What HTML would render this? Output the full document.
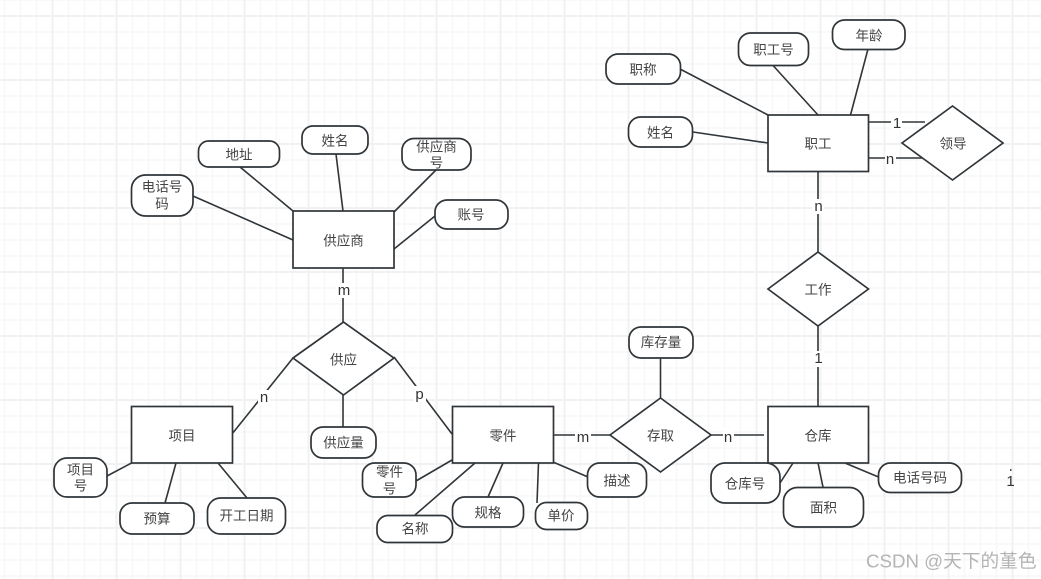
<!DOCTYPE html>
<html lang="zh">
<head>
<meta charset="utf-8">
<title>E-R 图</title>
<style>
html,body{margin:0;padding:0;background:#fff;width:1041px;height:579px;overflow:hidden}
svg{display:block}
.g{stroke:#2f3539;stroke-width:1.6;fill:none}
.s{stroke:#2f3539;stroke-width:1.7;fill:#fff}
text{font-family:"Liberation Sans","Noto Sans CJK SC",sans-serif;font-size:13.5px;fill:#444;text-anchor:middle;dominant-baseline:central}
.l{font-size:15px;fill:#333;transform:translateY(.7px)}
.wm{font-size:18.7px;fill:#b4b4b4;text-anchor:start}
</style>
</head>
<body>
<svg width="1041" height="579" viewBox="0 0 1041 579" xmlns="http://www.w3.org/2000/svg">
<defs>
<pattern id="minor" x="3.500" y="-1" width="16" height="16" patternUnits="userSpaceOnUse">
<path d="M1 0V16M0 1H16" stroke="#f7f7f8" stroke-width="1.5" fill="none"/>
</pattern>
<pattern id="major" x="51.500" y="15" width="64" height="64" patternUnits="userSpaceOnUse">
<path d="M1 0V64M0 1H64" stroke="#f1f1f2" stroke-width="2" fill="none"/>
</pattern>
</defs>
<rect width="1041" height="579" fill="#fff"/>
<rect width="1041" height="579" fill="url(#minor)"/>
<rect width="1041" height="579" fill="url(#major)"/>

<!-- connectors -->
<g class="g">
<path d="M680 69L768 115M773.500 66L818 115M868 49L850.500 115M693 132L768 143"/>
<path d="M868 122H925M868 158H925"/>
<path d="M818 171V252M818 326V406"/>
<path d="M553 435H610M711 435H764M660.500 358V398"/>
<path d="M553 462L588 477M538.500 463L537 503M503 463L488 497M475 463L415 515M452 460L416 481"/>
<path d="M394 357L452 434M232 434L293 358M343 395V427"/>
<path d="M131.500 463L107 476M176 463L165 503M218 463L247 498"/>
<path d="M343 268V322"/>
<path d="M394 249L435 216M394 212L436 170M336 154L343 211M240 167L293 211M193 196L293 240"/>
<path d="M793 463L780 483M818 463L823 487M845 463L878.500 477"/>
</g>

<!-- entities -->
<g class="s">
<rect x="768" y="115" width="100.500" height="56.500"/>
<rect x="768" y="406.500" width="100.500" height="56.500"/>
<rect x="452.500" y="406.500" width="101" height="56.500"/>
<rect x="131.500" y="406.500" width="101" height="56.500"/>
<rect x="293" y="211" width="101" height="57"/>
</g>

<!-- relationships -->
<g class="s">
<polygon points="902,143 952.500,106 1003,143 952.500,180"/>
<polygon points="768,289 818,252 868.500,289 818,326"/>
<polygon points="610,435 660.500,398 711,435 660.500,472"/>
<polygon points="293,358 343.500,322 394,358 343.500,395"/>
</g>

<!-- attributes -->
<g class="s">
<rect x="738.500" y="33" width="70" height="32.500" rx="12"/>
<rect x="832.500" y="20" width="72.500" height="29.500" rx="12"/>
<rect x="606" y="54" width="74.500" height="30" rx="12"/>
<rect x="628.500" y="117" width="64" height="30" rx="12"/>
<rect x="629" y="327" width="64" height="31" rx="12"/>
<rect x="587.500" y="463" width="59" height="34" rx="12"/>
<rect x="535.500" y="502.500" width="52" height="27" rx="11"/>
<rect x="452.500" y="497" width="71" height="30" rx="12"/>
<rect x="377" y="515.500" width="75.500" height="27" rx="11"/>
<rect x="362.500" y="463" width="53.500" height="34" rx="12"/>
<rect x="311" y="427" width="65" height="31" rx="12"/>
<rect x="54" y="458" width="53" height="39" rx="13"/>
<rect x="120" y="503" width="74" height="31" rx="12"/>
<rect x="207.500" y="498" width="78" height="36" rx="13"/>
<rect x="435" y="200" width="73" height="29" rx="12"/>
<rect x="402" y="138.500" width="69" height="31.500" rx="12"/>
<rect x="302" y="126" width="66" height="28" rx="11"/>
<rect x="198.500" y="141" width="81" height="26" rx="10"/>
<rect x="131.500" y="175" width="61.500" height="41" rx="14"/>
<rect x="711" y="463" width="69" height="40" rx="14"/>
<rect x="783.500" y="487.500" width="80" height="39.500" rx="14"/>
<rect x="878.500" y="463" width="83" height="29.500" rx="12"/>
</g>

<!-- cardinality label backgrounds -->
<g fill="#fff">
<rect x="891" y="114" width="11" height="17"/>
<rect x="885" y="151" width="11" height="15"/>
<rect x="812" y="199" width="12" height="15"/>
<rect x="812" y="351" width="12" height="16"/>
<rect x="575" y="428" width="16" height="15"/>
<rect x="723" y="428" width="11" height="15"/>
<rect x="414" y="386" width="12" height="16"/>
<rect x="258" y="390" width="12" height="15"/>
<rect x="336" y="283" width="16" height="15"/>
</g>

<!-- labels -->
<text x="818" y="144">职工</text>
<text x="953" y="144">领导</text>
<text x="818" y="290">工作</text>
<text x="818" y="436">仓库</text>
<text x="660.500" y="436">存取</text>
<text x="503" y="436">零件</text>
<text x="182" y="436">项目</text>
<text x="343.500" y="360">供应</text>
<text x="343.500" y="241">供应商</text>

<text x="773.500" y="50">职工号</text>
<text x="869" y="36">年龄</text>
<text x="643" y="70">职称</text>
<text x="660.500" y="133">姓名</text>
<text x="661" y="342.500">库存量</text>
<text x="617" y="481">描述</text>
<text x="561" y="516">单价</text>
<text x="488" y="513">规格</text>
<text x="415" y="529">名称</text>
<text x="389.500" y="472">零件</text>
<text x="389.500" y="489">号</text>
<text x="343.500" y="443">供应量</text>
<text x="80.500" y="470">项目</text>
<text x="80.500" y="486">号</text>
<text x="157" y="519">预算</text>
<text x="246.500" y="516">开工日期</text>
<text x="471" y="215">账号</text>
<text x="436.500" y="147">供应商</text>
<text x="436.500" y="163">号</text>
<text x="335" y="141">姓名</text>
<text x="239" y="155">地址</text>
<text x="162" y="187">电话号</text>
<text x="162" y="204">码</text>
<text x="745" y="484">仓库号</text>
<text x="823.500" y="508">面积</text>
<text x="920" y="478">电话号码</text>

<text class="l" x="897" y="123">1</text>
<text class="l" x="890" y="159">n</text>
<text class="l" x="818.500" y="206">n</text>
<text class="l" x="818.500" y="358">1</text>
<text class="l" x="583" y="437">m</text>
<text class="l" x="728" y="437">n</text>
<text class="l" x="419.500" y="394">p</text>
<text class="l" x="264" y="397">n</text>
<text class="l" x="344" y="290">m</text>
<text class="l" x="1010.500" y="481">1</text>
<rect x="1010" y="469" width="1.500" height="2" fill="#555"/>

<text class="wm" x="866" y="561">CSDN @天下的堇色</text>
</svg>
</body>
</html>
